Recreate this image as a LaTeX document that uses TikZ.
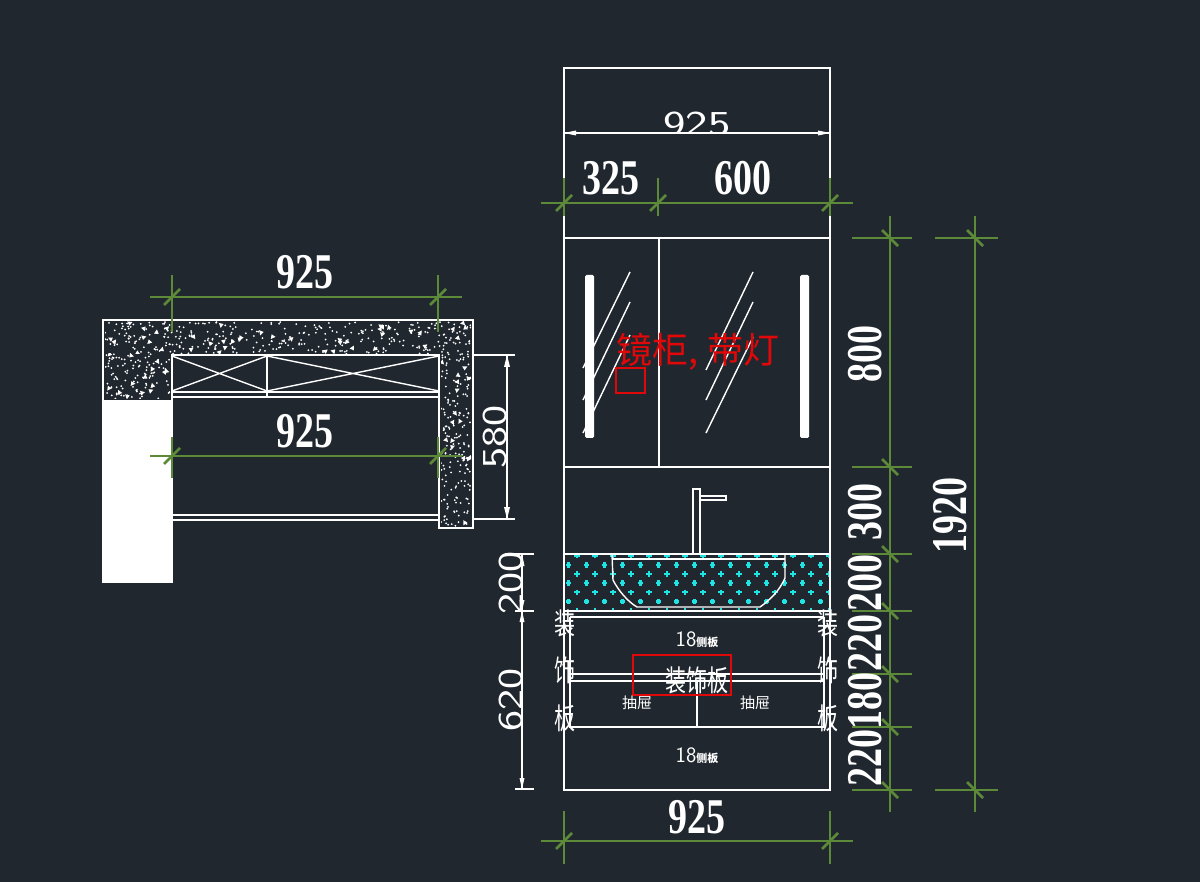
\documentclass[tikz,border=0pt]{standalone}
\usepackage{fontspec}
\setmainfont{Liberation Serif}
\newfontfamily\thinf{Latin Modern Sans}
\newfontfamily\cjk{Noto Sans CJK SC}
\definecolor{bgc}{HTML}{20272F}
\definecolor{dimg}{HTML}{5C8A38}
\definecolor{cadred}{HTML}{E00808}
\definecolor{cadcy}{HTML}{20E4E4}
\tikzset{
  cad/.style={draw=white,line width=1.5pt},
  thin cad/.style={draw=white,line width=1.4pt},
  dimline/.style={draw=dimg,line width=1.6pt},
  dimslash/.style={draw=dimg,line width=2.6pt},
  bold num/.style={text=white,inner sep=0pt,font=\fontsize{50}{50}\selectfont\bfseries},
  thin num/.style={text=white,inner sep=0pt,font=\thinf\fontsize{35}{35}\selectfont},
  label cn/.style={text=white,inner sep=0pt,font=\cjk\fontsize{21}{21}\selectfont},
  small cn/.style={text=white,inner sep=0pt,font=\cjk\fontsize{15}{15}\selectfont},
  red cn/.style={text=cadred,inner sep=0pt,font=\cjk\fontsize{36}{36}\selectfont},
  arrowtip/.style={fill=white,draw=none}
}
% tick on a horizontal dimension line
\newcommand{\tickh}[4]{% x, y, up, down
  \draw[dimline] (#1,#3) -- (#1,#4);
  \draw[dimslash] (#1-8,#2+8) -- (#1+8,#2-8);}
% tick on a vertical dimension line
\newcommand{\tickv}[4]{% x, y, left, right
  \draw[dimline] (#3,#2) -- (#4,#2);
  \draw[dimslash] (#1-8,#2-8) -- (#1+8,#2+8);}
% random speckle
\newcommand{\speckle}[6]{% x y w h dots triangles
  \foreach \i in {1,...,#5}{
    \pgfmathsetmacro{\px}{#1+rnd*#3}
    \pgfmathsetmacro{\py}{#2+rnd*#4}
    \fill[white] (\px,\py) circle (1.0);
  }
  \foreach \i in {1,...,#6}{
    \pgfmathsetmacro{\px}{#1+rnd*#3}
    \pgfmathsetmacro{\py}{#2+rnd*#4}
    \pgfmathsetmacro{\ang}{rnd*360}
    \fill[white,rotate around={\ang:(\px,\py)}] (\px-2.6,\py+1.4) -- (\px+2.6,\py+1.4) -- (\px,\py-2.6) -- cycle;
  }
}
\begin{document}
\begin{tikzpicture}[x=1pt,y=-1pt]
\useasboundingbox (0,0) rectangle (1200,882);
\fill[bgc] (0,0) rectangle (1200,882);

%% ---------- plan view ----------
\pgfmathsetseed{4242}
\begin{scope}
  \clip (105,322) rectangle (471,354);
  \speckle{105}{322}{366}{32}{340}{42}
\end{scope}
\begin{scope}
  \clip (105,354) rectangle (170,399);
  \speckle{105}{354}{65}{45}{100}{14}
\end{scope}
\begin{scope}
  \clip (441,354) rectangle (471,526);
  \speckle{441}{354}{30}{172}{170}{16}
\end{scope}
\fill[white] (103,400) rectangle (172,582);
\draw[cad] (103,400) -- (103,320) -- (473,320) -- (473,528) -- (439,528) -- (439,355) -- (172,355) -- (172,400);
\draw[cad] (172,400) -- (172,582) -- (103,582) -- (103,400);
\draw[thin cad] (172,392) -- (439,392);
\draw[thin cad] (172,397) -- (439,397);
\draw[cad] (267,355) -- (267,396);
\draw[thin cad] (172,391) -- (267,356) (172,356) -- (267,391);
\draw[thin cad] (267,391) -- (439,356) (267,356) -- (439,391);
\draw[thin cad] (172,515) -- (439,515);
\draw[thin cad] (172,520) -- (439,520);
% 580 dim
\draw[thin cad] (473,355) -- (515,355);
\draw[thin cad] (473,519) -- (515,519);
\draw[thin cad] (507,355) -- (507,519);
\fill[arrowtip] (507,355) -- (510,367) -- (504,367) -- cycle;
\fill[arrowtip] (507,519) -- (510,507) -- (504,507) -- cycle;
\node[thin num,rotate=90,xscale=1.28] (t580) at (495,437) {580};
% 925 dims
\draw[dimline] (150,297) -- (462,297);
\tickh{172}{297}{275}{332}
\tickh{438}{297}{275}{332}
\node[bold num,xscale=.76] (t925a) at (305,272) {925};
\draw[dimline] (150,456) -- (462,456);
\tickh{172}{456}{437}{478}
\tickh{438}{456}{437}{478}
\node[bold num,xscale=.76] (t925b) at (305,431) {925};

%% ---------- elevation ----------
% cyan hatch
\begin{scope}
  \clip (565,555) rectangle (829,611);
  \foreach \r in {0,...,6}{
    \pgfmathsetmacro{\yy}{555.5+9.2*\r}
    \pgfmathsetmacro{\xo}{ifthenelse(mod(\r,2)==0,577,568.5)}
    \foreach \c in {0,...,14}{
      \pgfmathsetmacro{\xx}{\xo+18*\c}
      \draw[cadcy,line width=2.2pt] (\xx-2.8,\yy) -- (\xx+2.8,\yy) (\xx,\yy-2.8) -- (\xx,\yy+2.8);
    }
  }
\end{scope}
% outer frames
\draw[cad] (564,68) rectangle (830,790);
\draw[cad] (564,238) -- (830,238);
\draw[cad] (564,467) -- (830,467);
\draw[cad] (659,238) -- (659,467);
\draw[cad] (564,554) -- (830,554);
\draw[cad] (564,611) -- (830,611);
% thin 925 at top
\node[thin num,xscale=1.36,anchor=south] (t925t) at (697,136) {925};
\fill[bgc] (640,134) rectangle (750,140);
\draw[thin cad] (564,133) -- (830,133);
\fill[arrowtip] (564,133) -- (576,130.5) -- (576,135.5) -- cycle;
\fill[arrowtip] (830,133) -- (818,130.5) -- (818,135.5) -- cycle;
% lights
\fill[white,rounded corners=1.5pt] (585,275) rectangle (594,438);
\fill[white,rounded corners=1.5pt] (800,275) rectangle (809,438);
% mirror lines
\draw[thin cad] (630,272) -- (583,368) (630,302) -- (583,400) (630,335) -- (583,433);
\draw[thin cad] (753,272) -- (706,370) (753,302) -- (706,400) (753,337) -- (706,433);
% faucet
\draw[thin cad] (693,554) -- (693,489) -- (700,489) -- (700,554);
\draw[thin cad] (700,496) -- (726,496) -- (726,500) -- (700,500);
% basin
\draw[thin cad] (612,559) -- (785,559);
\draw[thin cad] (612,554) -- (613,580) .. controls (618,590) and (628,602) .. (637,607) -- (760,607) .. controls (770,600) and (780,590) .. (785,578) -- (785,554);
% drawer unit
\draw[cad] (570,617) -- (824,617);
\draw[cad] (570,617) -- (570,727) -- (824,727) -- (824,617);
\draw[cad] (570,674) -- (824,674);
\draw[cad] (570,681) -- (824,681);
\draw[cad] (697,681) -- (697,727);
% red
\draw[draw=cadred,line width=1.8pt] (633,655) rectangle (731,695);
\node[red cn] (tmir) at (698,352) {镜柜, 带灯};
\draw[draw=cadred,line width=1.8pt] (616,368) rectangle (645,393);
% cn labels
\node[label cn,yscale=1.4] (c1) at (565,623) {装};
\node[label cn,yscale=1.4] (c2) at (565,670) {饰};
\node[label cn,yscale=1.4] (c3) at (565,718) {板};
\node[label cn,yscale=1.4] (c4) at (828,623) {装};
\node[label cn,yscale=1.4] (c5) at (828,670) {饰};
\node[label cn,yscale=1.4] (c6) at (828,718) {板};
\node[label cn,yscale=1.4] (c7) at (697,680) {装饰板};
\node[small cn] (dl) at (637,703) {抽屉};
\node[small cn] (dr) at (755,703) {抽屉};
\node[text=white,inner sep=0pt,font=\thinf\fontsize{22}{22}\selectfont] (p1) at (697,640) {18{\cjk\fontsize{11}{11}\selectfont\bfseries 侧板}};
\node[text=white,inner sep=0pt,font=\thinf\fontsize{22}{22}\selectfont] (p2) at (697,756) {18{\cjk\fontsize{11}{11}\selectfont\bfseries 侧板}};
% 200 / 620 thin dims
\draw[thin cad] (505,554) -- (534,554);
\draw[thin cad] (515,611) -- (534,611);
\draw[thin cad] (515,789) -- (534,789);
\draw[thin cad] (522,554) -- (522,789);
\fill[arrowtip] (522,554) -- (524.5,566) -- (519.5,566) -- cycle;
\fill[arrowtip] (522,611) -- (524.5,600) -- (519.5,600) -- cycle;
\fill[arrowtip] (522,611) -- (524.5,622) -- (519.5,622) -- cycle;
\fill[arrowtip] (522,789) -- (524.5,778) -- (519.5,778) -- cycle;
\node[thin num,rotate=90,xscale=1.28] (t200) at (511,583) {200};
\node[thin num,rotate=90,xscale=1.28] (t620) at (511,700) {620};
% top green dim
\draw[dimline] (541,203) -- (853,203);
\tickh{564}{203}{178}{216}
\tickh{658}{203}{178}{216}
\tickh{830}{203}{178}{216}
\node[bold num,xscale=.76] (t325) at (611,178) {325};
\node[bold num,xscale=.76] (t600) at (743,178) {600};
% bottom green dim
\draw[dimline] (541,841) -- (853,841);
\tickh{564}{841}{811}{864}
\tickh{830}{841}{811}{864}
\node[bold num,xscale=.76] (t925c) at (697,817) {925};
% right green dims
\draw[dimline] (890,216) -- (890,812);
\foreach \yy in {238,467,554,611,674,727,790}{
  \tickv{890}{\yy}{852}{912}
}
\draw[dimline] (975,216) -- (975,812);
\tickv{975}{238}{935}{998}
\tickv{975}{790}{935}{998}
\node[bold num,rotate=90,xscale=.76] (v800) at (865,354) {800};
\node[bold num,rotate=90,xscale=.76] (v300) at (865,512) {300};
\node[bold num,rotate=90,xscale=.76] (v200) at (865,583) {200};
\node[bold num,rotate=90,xscale=.76] (v220) at (865,643) {220};
\node[bold num,rotate=90,xscale=.76] (v180) at (865,701) {180};
\node[bold num,rotate=90,xscale=.76] (v221) at (865,758) {220};
\node[bold num,rotate=90,xscale=.76] (v1920) at (950,515) {1920};
\end{tikzpicture}
\end{document}
